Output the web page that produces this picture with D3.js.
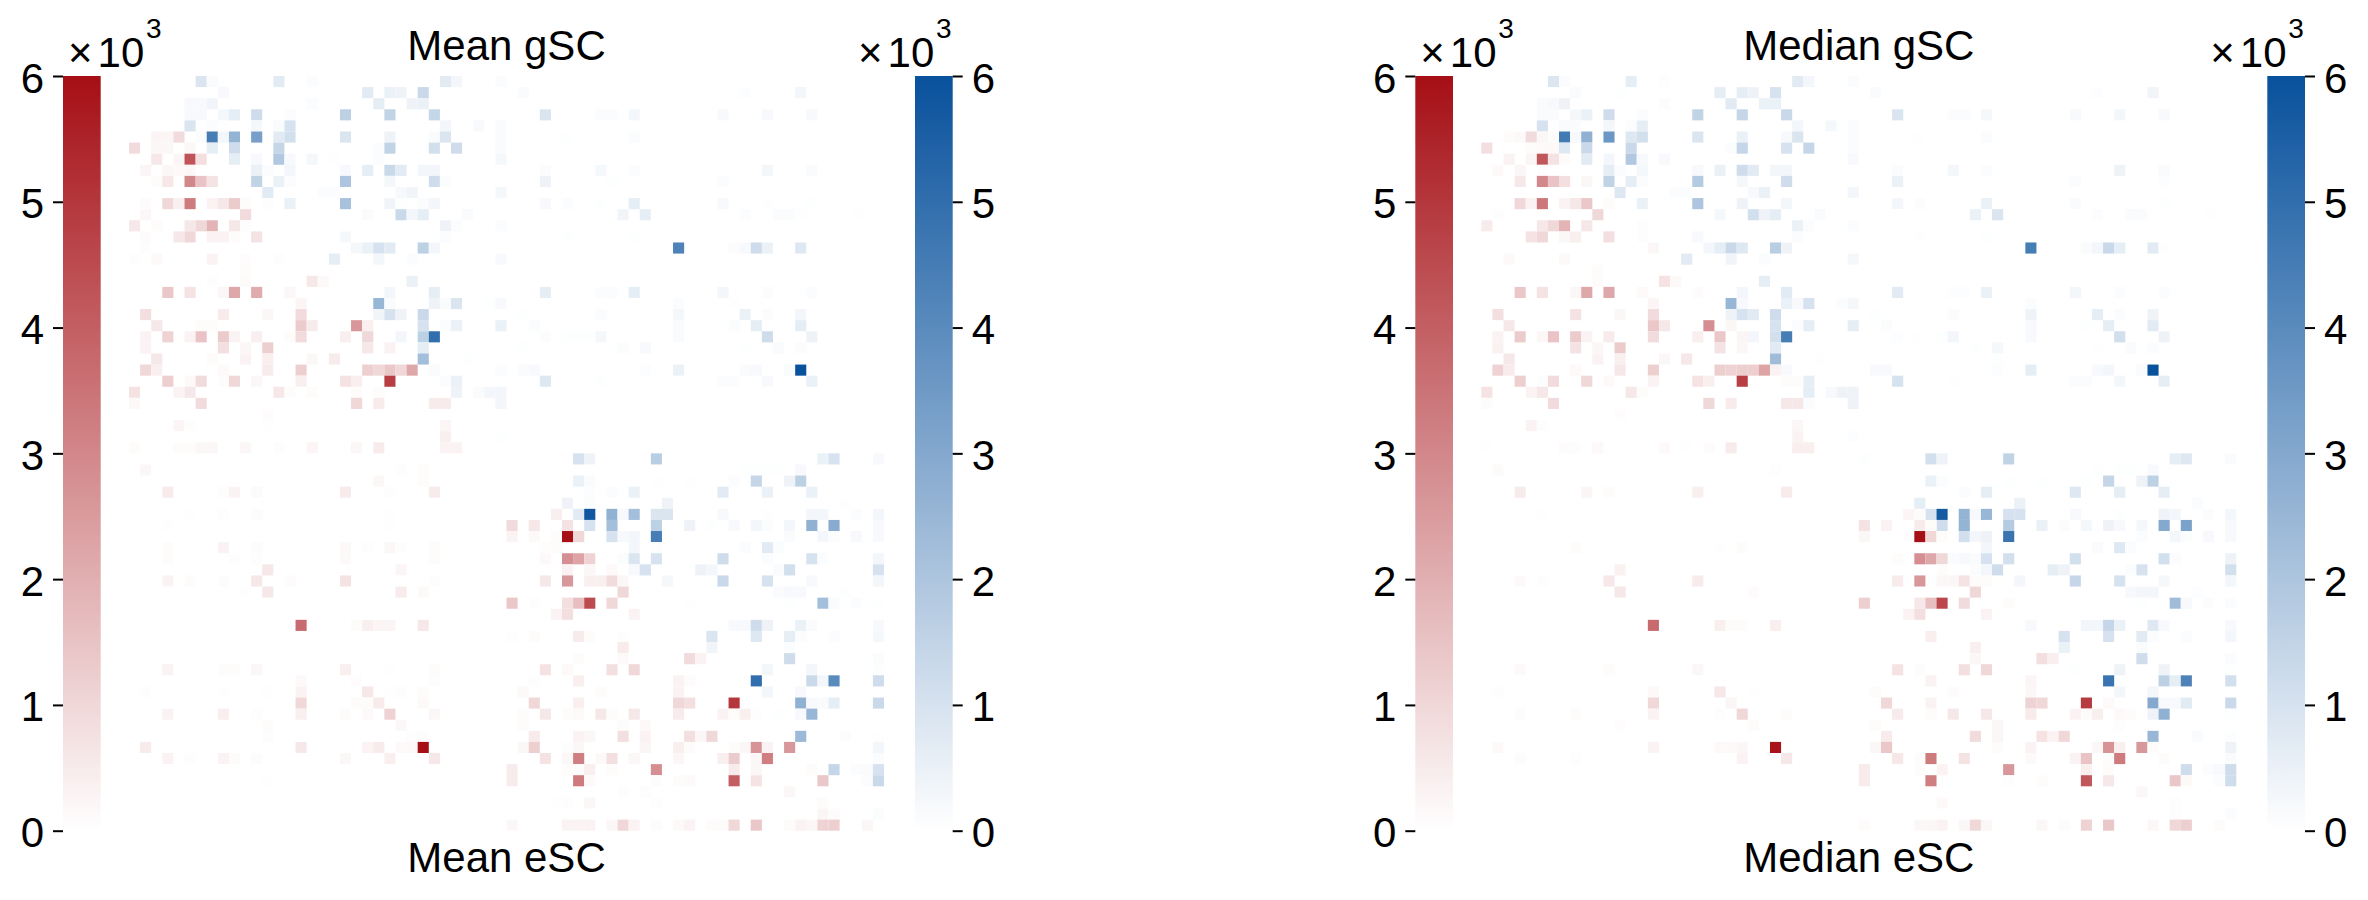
<!DOCTYPE html>
<html>
<head>
<meta charset="utf-8">
<script src="https://cdn.jsdelivr.net/npm/d3@7/dist/d3.min.js"></script>
<style>
html,body{margin:0;padding:0;background:#fff}
svg{display:block}
text{font-family:"Liberation Sans",Arial,sans-serif;fill:#000}
</style>
</head>
<body>
<svg id="chart" width="2368" height="900"></svg>
<script>
// Every row below reads: row, column, value, column, value ... (values in units of 10^3)
const meanGSC = [
[0,6,.9,7,.15,13,.7,16,.1,28,.7,29,.3,33,.1],
[1,8,.2,21,.7,23,.5,24,.4,26,1.3,35,.15,55,.08,60,.3],
[2,5,.2,6,.2,7,.35,16,.12,22,.6,25,.4,26,.5],
[3,5,.2,6,.2,8,.25,9,.6,11,1.2,14,.1,19,1.6,23,1.5,27,1.4,37,.9,42,.1,43,.1,45,.3,53,.2,57,.2,61,.2],
[4,5,.9,7,.1,11,.25,13,.15,14,1,28,.3,31,.2,33,.15],
[5,6,.1,7,4.5,8,.3,9,2.6,11,3.3,13,.7,14,1.1,19,.9,23,.4,27,.15,28,.9,33,.15,39,.05,45,.12],
[6,7,.6,9,1.2,13,1.4,22,.1,23,1.5,27,1.1,29,1.2,33,.15],
[7,9,.6,11,.2,13,1.9,14,.2,16,.25,18,.05,22,.1,33,.25],
[8,11,.5,12,.1,14,.3,19,.2,21,.6,23,1.3,24,.7,26,.3,27,.3,37,.1,42,.25,45,.1,57,.3,61,.15],
[9,11,1.5,13,.5,14,.1,19,2,23,.25,27,1.2,28,.1,37,.4,43,.05,53,.1],
[10,12,.7,17,.1,18,.1,24,.2,25,.35,33,.25],
[11,14,.5,19,2.1,23,.35,24,.05,26,.1,27,.3,37,.2,39,.1,42,.05,45,.6,53,.2,57,.05,61,.05],
[12,21,.15,24,1.3,25,.3,26,.6,30,.15,44,.35,46,.6,55,.1,58,.1,59,.1,60,.05,65,.03],
[13,28,.4,29,.1,33,.1],
[14,19,.25,28,.1,39,.05,45,.05],
[15,20,.25,21,.5,22,1,23,.7,26,1.6,27,.3,49,4.3,54,.1,55,.2,56,1.2,57,.5,60,.8],
[16,18,.6,22,.3,25,.1,33,.2],
[18,25,.5],
[19,23,.3,27,.6,37,.6,42,.1,43,.1,45,.6,53,.3,57,.1,61,.1],
[20,22,2.5,23,.15,27,.4,28,.15,29,.9,32,.05,33,.2,49,.1,54,.03],
[21,22,.35,23,1,24,.4,26,1.3,35,.05,42,.1,49,.25,55,.5,57,.1,60,.3],
[22,26,1,28,.1,29,.5,33,.5,36,.1,49,.15,54,.1,56,.6,60,.6],
[23,24,.3,26,1.6,27,5,37,.1,39,.05,40,.05,41,.05,42,.25,49,.15,57,1.2,61,.4],
[24,26,.6,35,.05,44,.1,46,.2,55,.05,58,.15,60,.1],
[25,26,2.2,30,.05],
[26,27,.15,33,.1,35,.15,36,.2,46,.08,49,.5,55,.15,56,.2,59,.15,60,6],
[27,28,.1,29,.5,37,.8,42,.05,53,.1,54,.1,57,.2,61,.5],
[28,29,.4,31,.15,32,.3,33,.3],
[29,33,.3],
[32,33,.05],
[34,40,1,41,.4,47,1.7,62,.5,63,1,67,.2],
[35,55,.05,56,.05,57,.05,58,.05,60,.2],
[36,40,.5,41,.15,47,.05,50,.05,54,.1,56,1.4,59,.4,60,1.6],
[37,41,.08,43,.1,45,.5,53,.7,57,.5,61,.5],
[38,39,.4,41,.1,48,.4,64,.05],
[39,40,.7,41,5.8,43,2.7,44,.2,45,2.2,47,.9,48,.9,53,.2,57,.05,61,.3,62,.3,65,.1,67,.3],
[40,41,1,43,2.2,47,1.6,50,.4,52,.05,54,.2,56,.3,57,.1,59,.3,61,2.7,63,2.9,67,.2],
[41,43,1,44,.2,45,.3,47,4.5,59,.15,62,.3,63,.1,65,.2,67,.2],
[42,45,.3,47,.08,55,.1,57,.7,58,.1],
[43,44,.1,45,.9,47,1,53,1.2,57,.1,61,1,62,.1,67,.3],
[44,45,.2,46,1,51,.4,52,.3,58,.15,59,1.1,67,1],
[45,48,.25,53,1.3,57,1,61,.2,67,.3],
[46,58,.15,59,.2,60,.2,64,.05],
[47,50,.05,59,.05,62,2.2,63,.15,65,.1,67,.05],
[49,54,.2,55,.2,56,1.2,57,.4,60,.5,61,.15,67,.2],
[50,52,.9,56,.8,59,.6,60,.1,63,.1,67,.25],
[51,52,.35,59,.1],
[52,59,1.2,67,.1],
[53,57,.3,61,.3,67,.08],
[54,56,5,61,1.3,62,.3,63,4,67,1.2],
[55,57,.3,60,.2],
[56,60,2.7,61,.2,62,.15,63,.6,67,1.3],
[57,58,.05,60,.2,61,2.5],
[59,60,2.4,64,.1,67,.03],
[60,67,.3],
[61,67,.1],
[62,63,1.4,65,.1,66,.15,67,1],
[63,66,.1,67,1.3],
[66,67,.1]
];
const meanESC = [
[5,2,.25,3,.25,4,.9],
[6,0,.9,2,.2,3,.2,5,.2],
[7,2,.6,4,.25,5,4.3,6,.8],
[8,1,.25,3,.2,4,.15,5,.2],
[9,2,.1,3,.6,5,3,6,1.5,7,.7],
[11,1,.1,3,1,4,.4,5,3.3,7,.3,8,.6,9,1.3,10,.1,12,.05],
[12,1,.2,10,.9],
[13,0,.6,2,.1,5,.6,6,1,7,1.9,9,.6,10,.05],
[14,1,.1,4,.6,5,1,7,.3,8,.3,9,.1,11,.7],
[15,1,.05],
[16,0,.05,2,.15,7,.3,10,.08,13,.05],
[17,10,.1],
[18,7,.05,10,.12,16,.6,17,.15],
[19,3,1.4,5,.7,8,.2,9,2.2,11,2.1,14,.2],
[20,15,.25],
[21,1,.8,8,.5,12,.2,15,.9],
[22,2,.6,6,.1,7,.1,15,1.3,16,.5,20,2.6,21,.4],
[23,1,.3,3,1.1,5,.3,6,1.5,8,1.3,9,.3,11,.4,14,.1,15,.9,19,.4,21,1],
[24,1,.3,8,.8,10,.2,12,1.2,21,.6,23,.3],
[25,2,.6,7,.1,10,.3,12,.4,16,.2,18,.5],
[26,1,1,2,.4,8,.15,12,.5,15,1.2,21,1.2,22,1,23,1.4,24,1,25,2.2],
[27,3,1.2,5,.15,6,.9,8,.1,9,1,11,.2,15,.4,19,.7,20,.4,23,4.8],
[28,0,.7,4,.3,5,.6,13,.6,14,.1,16,.1,20,.1,22,.1],
[29,0,.15,6,.9,20,1,22,.5,27,.5,28,.5],
[30,12,.08],
[31,4,.25,5,.05,12,.03,28,.25],
[32,28,.4],
[33,0,.1,4,.1,5,.1,6,.2,7,.2,10,.2,13,.05,16,.25,20,.2,22,.5,28,.3,29,.3],
[35,1,.2,24,.05,26,.1],
[36,22,.2,26,.1],
[37,3,.5,8,.08,9,.3,11,.12,19,.5,23,.05,27,.5],
[39,5,.03,8,.05,11,.1,23,.03,38,.4],
[40,3,.02,23,.03,34,.9,36,.6,39,.7],
[41,34,.3,36,.15,38,.1,39,6,40,1],
[42,3,.1,8,.3,11,.1,19,.15,21,.05,23,.2,24,.05,27,.1,37,.05,38,.1],
[43,3,.1,9,.05,11,.05,19,.15,27,.1,37,.15,39,2.8,40,2.3,41,1.1],
[44,12,.6,24,.25,39,.3,41,.2,43,.15],
[45,3,.3,5,.1,8,.1,11,.6,14,.1,19,.7,27,.05,37,.6,39,2.6,41,.4,42,.4,43,.9,44,.2],
[46,10,.03,12,.6,24,.5,26,.15,44,1],
[47,34,1.4,36,.05,39,.8,40,1.6,41,4.5,43,1],
[48,38,.3,39,.8,45,.3],
[49,15,3.7,20,.1,21,.4,22,.25,23,.25,26,.6],
[50,34,.05,36,.1,40,.5,41,.1,44,.05],
[51,44,.5],
[52,40,.1,44,.15,50,.9,51,.3],
[53,3,.3,8,.1,9,.1,11,.2,19,.4,23,.03,27,.1,37,.7,39,.15,43,.8,45,1],
[54,15,.15,20,.07,27,.05,36,.05,40,.4,49,.3,50,.1],
[55,1,.05,8,.03,12,.03,15,.3,21,.6,23,.03,24,.05,26,.1,35,.15,42,.1,49,.3],
[56,15,1,20,.1,21,.1,22,.5,26,.15,36,1,40,.4,49,1,50,.8,54,5],
[57,3,.3,8,.4,11,.05,15,.4,19,.1,21,.15,23,1.1,27,.2,35,.1,37,.6,39,.1,40,.15,42,.6,43,.1,45,.6,49,.5,53,.3,54,.1,55,.4,56,.05],
[58,12,.1,24,.2,35,.1,44,.1,46,.15],
[59,12,.05,25,.05,26,.1,36,.5,40,.3,41,.2,44,.8,46,.3,50,.8,51,.2,52,1],
[60,1,.5,15,.6,21,.3,22,.5,24,.15,25,.15,26,6,35,.2,36,1.2,39,.05,40,.2,46,.25,49,.4,50,.1,54,.1,55,.2,56,2.7,57,.3,59,2.6],
[61,3,.3,5,.05,8,.3,9,.1,11,.1,19,.2,23,.4,27,.6,37,.7,39,.2,40,3.2,42,.15,43,.8,45,.2,49,.2,53,.4,54,1.3,56,.2,57,3.2],
[62,34,.5,39,.1,40,.1,41,.4,43,.1,47,2.8,54,.5,56,.2,61,.1],
[63,12,.03,34,.5,40,3.3,41,.15,47,.1,49,.1,50,.15,54,4,56,.7,62,1.4],
[64,44,.05,46,.05,59,.2],
[65,38,.03,39,.05,41,.2,47,.05,62,.1],
[66,62,.25,63,.1],
[67,34,.2,39,.3,40,.3,41,.3,43,.2,44,1,45,.3,47,.1,49,.15,50,.3,52,.1,53,.1,54,1,56,1.4,59,.1,60,.3,61,.2,62,1.1,63,1.2,66,.2]
];
const medianGSC = [
[0,6,.85,7,.1,13,.6,16,.08,28,.7,29,.3,33,.1],
[1,8,.15,12,.05,21,.6,23,.6,24,.4,26,1,35,.15,55,.08,60,.35],
[2,5,.15,6,.2,7,.4,16,.1,22,.7,25,.5,26,.5],
[3,5,.15,6,.15,8,.25,9,.5,11,1.2,14,.1,19,1.5,23,1.4,27,1.3,37,.9,42,.1,43,.1,45,.25,53,.2,57,.3,61,.2],
[4,5,1,7,.15,8,.1,11,.3,13,.1,14,.6,28,.3,31,.25,33,.1],
[5,6,.1,7,4.6,8,.2,9,2.7,11,3.6,13,.8,14,1.1,19,.9,23,.5,27,.2,28,.9,33,.1,39,.05,45,.12],
[6,7,.8,9,1.3,13,1.3,22,.1,23,1.4,27,1,29,1.4,33,.1],
[7,9,.7,11,.3,13,1.9,14,.2,16,.2,33,.2],
[8,11,.6,12,.1,14,.25,19,.2,21,.5,23,1.2,24,.7,26,.3,27,.3,37,.1,42,.3,45,.1,57,.4,61,.15],
[9,11,1.5,13,.6,14,.1,19,1.8,23,.25,27,1.2,37,.5,53,.1,61,.08],
[10,12,.8,17,.1,18,.1,24,.2,25,.5,33,.3],
[11,14,.5,19,2,23,.4,27,.3,37,.3,39,.1,45,.5,53,.15,61,.05],
[12,21,.25,24,1.1,25,.4,26,.6,30,.15,44,.5,46,.9,55,.1,58,.15,59,.15,65,.03],
[13,28,.5,29,.1,33,.1],
[14,19,.2,28,.1,39,.05,45,.05],
[15,20,.3,21,.6,22,1.3,23,.8,26,1.7,27,.4,49,4.5,54,.15,55,.3,56,1.3,57,.6,60,.7,61,.05],
[16,18,.7,22,.35,25,.1,33,.25],
[18,25,.6],
[19,23,.3,27,.7,37,.7,42,.07,43,.07,45,.5,53,.3,57,.1,61,.1],
[20,22,2.5,23,.2,27,.5,28,.2,29,1,32,.1,33,.25,49,.1],
[21,22,.4,23,1,24,.7,26,1.2,35,.05,42,.1,49,.4,55,.6,57,.1,60,.4],
[22,26,1,28,.1,29,.6,33,.6,36,.1,49,.2,54,.05,56,.6,60,.7],
[23,24,.3,26,1.1,27,4.5,37,.08,39,.04,41,.05,42,.3,49,.2,57,1.1,61,.4],
[24,26,.7,44,.05,46,.25,55,.05,58,.15,60,.1],
[25,26,2.3,30,.05,46,.05],
[26,27,.2,35,.2,36,.2,46,.08,49,.6,55,.2,56,.3,59,.15,60,6],
[27,29,.6,37,1,42,.05,53,.1,54,.1,57,.3,61,.6],
[28,29,.6,31,.2,32,.4,33,.4],
[29,29,.1,33,.4],
[32,33,.08],
[34,34,.04,40,1.1,41,.4,47,1.5,62,.6,63,.8,67,.15],
[35,55,.05,57,.05,58,.05,60,.2],
[36,40,.5,41,.1,47,.05,50,.05,54,.05,56,1.4,59,.4,60,1.6],
[37,43,.1,45,.6,53,.8,57,.6,61,.6],
[38,39,.6,48,.5,64,.1],
[39,40,1,41,5.7,43,2.6,44,.2,45,2.5,47,1,48,1,53,.2,57,.05,61,.4,62,.3,65,.1,67,.3],
[40,41,1.2,43,2.6,47,1.8,50,.5,52,.1,54,.25,56,.4,57,.2,59,.25,61,3,63,3.2,67,.2],
[41,43,1.1,44,.3,45,.4,47,4.8,59,.1,62,.3,63,.1,65,.2,67,.2],
[42,45,.3,47,.05,55,.15,57,.8,58,.1],
[43,42,.15,43,.2,44,.15,45,1,47,1.1,53,1.1,61,1.1,62,.1,67,.4],
[44,44,.1,45,.3,46,1.2,51,.6,52,.4,58,.1,59,1,67,1.1],
[45,48,.3,53,1.4,57,1,61,.25,67,.3],
[46,58,.2,59,.3,60,.3,64,.08],
[47,59,.05,62,2.3,63,.2,65,.1,67,.1],
[49,49,.2,54,.3,55,.3,56,1.4,57,.5,60,.8,61,.2,67,.2],
[50,52,1,56,1,59,.7,60,.1,63,.1,67,.3],
[51,52,.5,59,.15],
[52,59,1.2,67,.1],
[53,53,.05,57,.4,61,.4,67,.05],
[54,56,4.8,61,1.6,62,.6,63,4.3,67,1.1],
[55,57,.3,60,.3],
[56,60,3,61,.2,62,.2,63,.7,67,1.3],
[57,60,.4,61,2.7,67,.05],
[59,60,2.5,64,.15,67,.08],
[60,67,.4],
[61,67,.15],
[62,63,1.2,65,.1,66,.2,67,1.2],
[63,66,.1,67,1.2],
[66,67,.1]
];
const medianESC = [
[5,2,.1,3,.15,4,.9,5,.2,6,.1],
[6,0,.8,4,.1,5,.15,6,.15],
[7,2,.3,4,.25,5,4.2,6,.7,7,.1],
[8,1,.15,3,.25,5,.05],
[9,3,.6,5,3,6,1.5,7,.8,9,.2],
[11,3,1,4,.3,5,3.4,7,.3,8,.6,9,1.4,11,.1],
[12,1,.05,10,1],
[13,0,.5,5,.6,6,1,7,1.9,9,.6,14,.05],
[14,4,.7,5,1,7,.2,8,.4,11,.8,14,.05],
[15,15,.2],
[16,2,.15,7,.15],
[17,10,.1],
[18,10,.1,16,.7,17,.15],
[19,3,1.4,5,.7,8,.2,9,2.2,11,2.2,14,.15,19,.1],
[20,15,.25],
[21,1,.8,8,.7,12,.2,15,.9],
[22,2,.6,15,1.4,16,.6,20,2.8,22,.2],
[23,1,.3,3,1.3,5,.2,6,1.5,8,1.3,9,.3,11,.5,15,.9,19,.4,21,1.4,23,.25],
[24,1,.35,8,.7,10,.2,12,1.3,21,.7,23,.2],
[25,2,.6,10,.3,12,.4,16,.2,18,.6],
[26,1,1.1,2,.5,8,.15,12,.6,15,1.2,21,1.2,22,1.1,23,1.2,24,1.2,25,2.3,26,.3],
[27,3,1.2,5,.05,6,.9,9,1,11,.15,15,.3,19,.7,20,.4,23,4.8,27,.1,28,.1],
[28,0,.7,4,.3,5,.6,13,.6,14,.1],
[29,0,.1,6,.9,20,1,22,.5,27,.6,28,.6],
[30,12,.08],
[31,4,.3,5,.06,28,.2],
[32,28,.3],
[33,0,.03,7,.1,8,.05,10,.15,16,.15,18,.03,20,.1,22,.5,28,.4,29,.4],
[35,1,.12,26,.05],
[37,3,.5,9,.25,11,.1,19,.4,27,.5],
[39,5,.02,38,.25,39,.1],
[40,34,.7,36,.3,39,.5,40,.1],
[41,34,.2,38,.1,39,6,40,1,41,.1],
[42,8,.1,21,.03,23,.1],
[43,37,.1,39,2.8,40,2.2,41,1],
[44,12,.35,41,.1],
[45,3,.15,5,.05,11,.6,19,.5,37,.5,39,2.6,41,.2,42,.2,43,.7,44,.1,45,.1],
[46,12,.6,24,.1,44,1],
[47,34,1.2,39,.6,40,1.6,41,4.6,43,.9,47,.1],
[48,38,.3,39,.8,45,.3],
[49,15,3.7,21,.4,22,.1,23,.1,26,.4],
[50,40,.4],
[51,44,.4],
[52,44,.2,50,.8,51,.4],
[53,3,.15,11,.1,19,.2,37,.7,39,.1,43,.8,45,1],
[54,40,.3,49,.25],
[55,1,.05,15,.15,21,.6,24,.02,35,.1,42,.1,49,.2],
[56,15,1,22,.25,36,1,40,.3,49,1.1,50,1,54,4.9,56,.15],
[57,3,.1,8,.1,15,.3,21,.05,23,1,27,.1,37,.5,40,.1,42,.6,45,.6,49,.5,53,.3,54,.1,55,.4,57,.15,58,.1],
[58,12,.08,24,.1,35,.1,46,.2,57,.05],
[59,36,.5,44,.9,46,.2,50,.7,51,.3,52,1],
[60,1,.15,15,.3,21,.15,22,.15,23,.2,26,5.9,35,.2,36,1.4,46,.1,49,.3,55,.2,56,2.7,57,.4,59,2.6,60,.1],
[61,3,.1,8,.05,23,.3,27,.6,37,.6,39,.1,40,3.3,43,.7,49,.15,53,.3,54,1.5,56,.1,57,3.3,61,.1],
[62,34,.5,39,.1,41,.3,47,2.6,54,.4,56,.1],
[63,34,.5,40,3.2,47,.05,50,.1,54,4.2,56,.6,62,1.4,63,.15],
[64,59,.2],
[65,41,.15,62,.05],
[66,62,.08],
[67,34,.1,39,.2,40,.2,41,.3,43,.2,44,1,45,.2,50,.2,52,.1,54,1.1,56,1.4,60,.2,62,1,63,1.2,66,.1]
];
const tickValues = [0,1,2,3,4,5,6];
const regionCount = 68;
const panelTitles = [["Mean gSC","Mean eSC"],["Median gSC","Median eSC"]];
const redTop = "#a50f15", blueTop = "#08519c";

const svg = d3.select("#chart");
const panels = [
  {dx:0, titles:panelTitles[0], g:meanGSC, e:meanESC},
  {dx:1352.3, titles:panelTitles[1], g:medianGSC, e:medianESC}
];
const barTop = 76, barBottom = 830.7;
const yBar = d3.scaleLinear().domain([0,6]).range([barBottom,barTop]);
const band = d3.range(regionCount);
const xCell = d3.scaleBand().domain(band).range([129,884]);
const yCell = d3.scaleBand().domain(band).range([barTop,barBottom]);
const redScale = d3.scaleLinear().domain([0,6]).range(["#ffffff",redTop]);
const blueScale = d3.scaleLinear().domain([0,6]).range(["#ffffff",blueTop]);
const defs = svg.append("defs");
[["gradRed",redScale],["gradBlue",blueScale]].forEach(([id,s])=>{
  const lg = defs.append("linearGradient").attr("id",id).attr("x1",0).attr("x2",0).attr("y1",1).attr("y2",0);
  lg.selectAll("stop").data(tickValues).join("stop")
    .attr("offset",d=>d/6).attr("stop-color",d=>s(d));
});
const decode = rows => rows.flatMap(row=>{
  const out=[];
  for(let i=1;i<row.length;i+=2) out.push({r:row[0],c:row[i],v:row[i+1]});
  return out;
});
function unit(g,x,y){
  const t=g.append("text").attr("x",x).attr("y",y).style("font-size","42px");
  t.append("tspan").text("\u00d7");
  t.append("tspan").attr("dx",5).text("10");
  g.append("text").attr("x",x+78).attr("y",y-29).style("font-size","28px").text("3");
}
panels.forEach(p=>{
  const g = svg.append("g").attr("transform",`translate(${p.dx},0)`);
  g.append("g").selectAll("rect").data(decode(p.g)).join("rect")
    .attr("x",d=>xCell(d.c)).attr("y",d=>yCell(d.r))
    .attr("width",xCell.bandwidth()).attr("height",yCell.bandwidth())
    .attr("fill",d=>blueScale(d.v));
  g.append("g").selectAll("rect").data(decode(p.e)).join("rect")
    .attr("x",d=>xCell(d.c)).attr("y",d=>yCell(d.r))
    .attr("width",xCell.bandwidth()).attr("height",yCell.bandwidth())
    .attr("fill",d=>redScale(d.v));
  // colour bars
  g.append("rect").attr("x",63).attr("y",barTop).attr("width",37.7).attr("height",barBottom-barTop).attr("fill","url(#gradRed)");
  g.append("rect").attr("x",915).attr("y",barTop).attr("width",37.7).attr("height",barBottom-barTop).attr("fill","url(#gradBlue)");
  const axL = g.append("g").attr("transform","translate(63,0)")
    .call(d3.axisLeft(yBar).tickValues(tickValues).tickSize(10).tickPadding(9).tickFormat(d3.format("d")));
  const axR = g.append("g").attr("transform","translate(952.7,0)")
    .call(d3.axisRight(yBar).tickValues(tickValues).tickSize(10).tickPadding(9).tickFormat(d3.format("d")));
  [axL,axR].forEach(a=>{
    a.select(".domain").remove();
    a.selectAll("line").attr("stroke","#000").attr("stroke-width",2);
    a.selectAll("text").attr("dy",0).attr("y",16).style("font-size","42px").style("font-family",'"Liberation Sans",Arial,sans-serif').attr("fill","#000");
  });
  unit(g,68,67);
  unit(g,858,67);
  g.append("text").attr("x",506.5).attr("y",60).attr("text-anchor","middle").style("font-size","42px").text(p.titles[0]);
  g.append("text").attr("x",506.5).attr("y",872).attr("text-anchor","middle").style("font-size","42px").text(p.titles[1]);
});
</script>
</body>
</html>
